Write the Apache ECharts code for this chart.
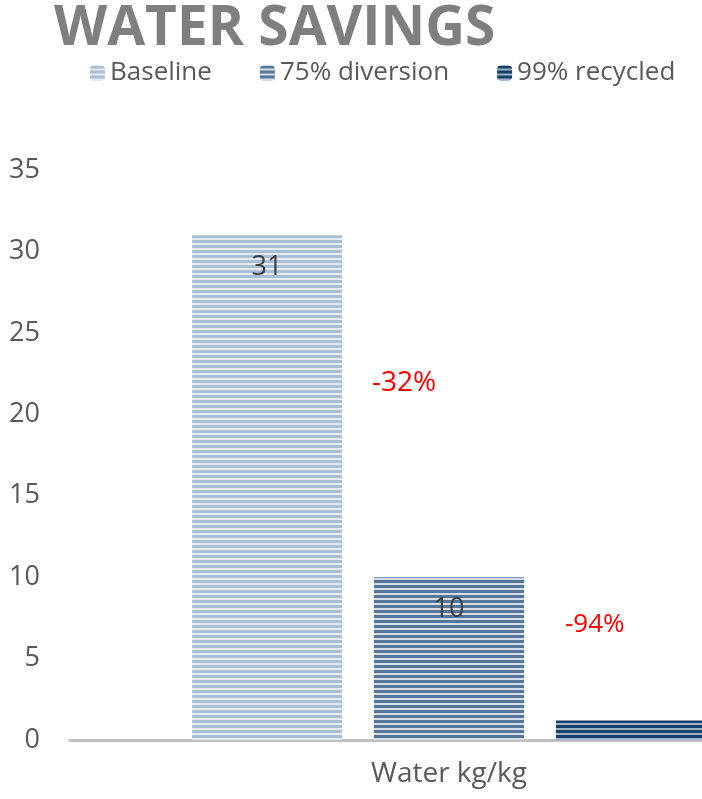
<!DOCTYPE html>
<html><head><meta charset="utf-8">
<script src="https://cdn.jsdelivr.net/npm/echarts@6/dist/echarts.min.js"></script>
<style>html,body{margin:0;padding:0;background:#fff;overflow:hidden;width:702px;height:799px;}#c{width:830px;height:799px;}</style>
</head><body><div id="c"></div>
<script>
const categories = ['Water kg/kg'];
const seriesNames = ['Baseline', '75% diversion', '99% recycled'];
const baseline = [31];
const diversion = [10];
const recycled = [1.2];
const changeLabels = ['-32%', '-94%'];
const yTicks = [0, 5, 10, 15, 20, 25, 30, 35];

function stripe(dark, light) {
  const c = document.createElement('canvas');
  c.width = 6; c.height = 5;
  const g = c.getContext('2d');
  g.fillStyle = light; g.fillRect(0, 0, 6, 5);
  g.fillStyle = dark; g.fillRect(0, 0, 6, 3);
  return { image: c, repeat: 'repeat' };
}
const fills = [
  stripe('#a9bfd4', '#e3ebf3'),
  stripe('#557698', '#d3dde8'),
  stripe('#173f68', '#9bb3cc')
];

const chart = echarts.init(document.getElementById('c'));
const data = [baseline, diversion, recycled];
chart.setOption({
  animation: false,
  title: {
    text: 'WATER SAVINGS', left: 49, top: -3,
    textStyle: { fontFamily: 'Open Sans', fontWeight: 'bold', fontSize: 55, color: '#7f7f7f' }
  },
  legend: {
    data: seriesNames, left: 85, top: 55, itemWidth: 15, itemHeight: 15, itemGap: 48,
    textStyle: { fontFamily: 'Open Sans', fontSize: 26, color: '#595959' }
  },
  grid: { left: 70, top: 170, bottom: 59, right: 2, containLabel: false },
  xAxis: {
    type: 'category', data: categories,
    axisLine: { lineStyle: { color: '#bfbfbf', width: 3 } },
    axisTick: { show: false },
    axisLabel: { fontFamily: 'Open Sans', fontSize: 28, color: '#595959', margin: 20 }
  },
  yAxis: {
    type: 'value', min: yTicks[0], max: yTicks[yTicks.length - 1], interval: 5,
    splitLine: { show: false }, axisLine: { show: false }, axisTick: { show: false },
    axisLabel: { fontFamily: 'Open Sans', fontSize: 27, color: '#595959', margin: 30 }
  },
  series: seriesNames.map((n, i) => ({
    name: n, type: 'bar', data: data[i], barWidth: 150, barGap: '21.3%',
    itemStyle: { color: fills[i] },
    label: {
      show: i < 2, position: 'insideTop', distance: 19,
      fontFamily: 'Open Sans', fontSize: 27, color: '#404040'
    }
  })),
  graphic: [
    { type: 'text', left: 372, top: 369, style: { text: changeLabels[0], fontFamily: 'Open Sans', fontSize: 28, fill: '#ff0000' } },
    { type: 'text', left: 565, top: 612, style: { text: changeLabels[1], fontFamily: 'Open Sans', fontSize: 26, fill: '#ff0000' } }
  ]
});
</script></body></html>
